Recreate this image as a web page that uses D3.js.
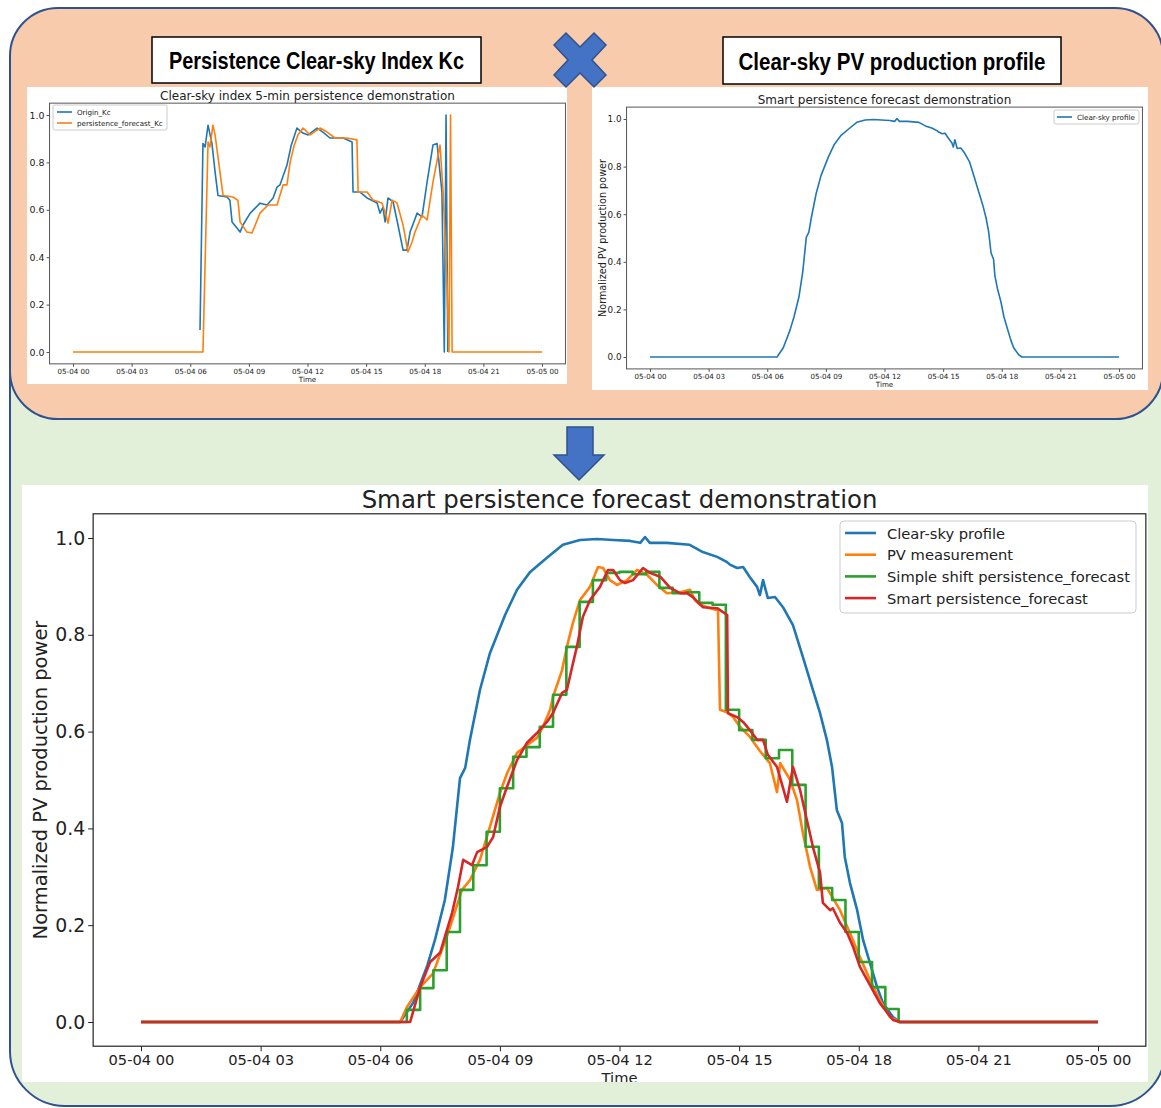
<!DOCTYPE html>
<html><head><meta charset="utf-8">
<script src="https://cdn.jsdelivr.net/npm/d3@7"></script>
<style>body{margin:0;background:#fff;} svg{display:block;}</style>
</head><body>
<svg id="c" width="1161" height="1108"></svg>
<script>
// ---------------- DATA ----------------
const tickHours = [0, 3, 6, 9, 12, 15, 18, 21, 24];
const tickLabels = ["05-04 00","05-04 03","05-04 06","05-04 09","05-04 12","05-04 15","05-04 18","05-04 21","05-05 00"];
const yTicks = [0, 0.2, 0.4, 0.6, 0.8, 1.0];

// [hour, value]
const clearSky = [[0,0],[6.50,0],[6.82,0.039],[7.17,0.114],[7.37,0.169],[7.62,0.252],[7.82,0.36],[8.00,0.504],[8.13,0.525],[8.25,0.583],[8.50,0.686],[8.75,0.762],[9.13,0.841],[9.43,0.893],[9.76,0.93],[10.18,0.959],[10.58,0.986],[11.01,0.996],[11.44,0.998],[11.84,0.996],[12.27,0.994],[12.52,0.99],[12.64,1.002],[12.76,0.99],[13.19,0.99],[13.76,0.986],[14.09,0.971],[14.45,0.961],[14.70,0.95],[14.77,0.945],[14.95,0.938],[15.10,0.94],[15.27,0.919],[15.45,0.899],[15.52,0.882],[15.60,0.913],[15.72,0.876],[15.90,0.878],[16.10,0.857],[16.35,0.82],[16.60,0.754],[16.85,0.686],[17.03,0.638],[17.20,0.583],[17.33,0.527],[17.45,0.438],[17.58,0.411],[17.65,0.341],[17.78,0.287],[17.96,0.231],[18.11,0.169],[18.28,0.122],[18.46,0.072],[18.61,0.039],[18.86,0.01],[19.03,0],[24,0]];

const pvMeasurement = [[0,0],[6.50,0],[6.67,0.031],[7.00,0.072],[7.32,0.10],[7.67,0.176],[8.05,0.273],[8.25,0.293],[8.50,0.335],[8.75,0.403],[9.00,0.473],[9.18,0.514],[9.43,0.556],[9.68,0.572],[9.93,0.587],[10.08,0.61],[10.26,0.645],[10.33,0.671],[10.56,0.727],[10.68,0.775],[10.83,0.824],[11.01,0.872],[11.26,0.899],[11.46,0.94],[11.59,0.938],[11.76,0.913],[11.94,0.903],[12.19,0.913],[12.44,0.934],[12.69,0.924],[12.94,0.903],[13.19,0.886],[13.52,0.888],[13.77,0.893],[13.89,0.872],[14.02,0.862],[14.27,0.855],[14.47,0.851],[14.52,0.645],[14.70,0.64],[14.85,0.63],[15.02,0.61],[15.27,0.589],[15.52,0.56],[15.77,0.535],[15.95,0.475],[16.03,0.535],[16.28,0.5],[16.45,0.459],[16.60,0.39],[16.78,0.32],[16.95,0.273],[17.20,0.277],[17.53,0.231],[17.78,0.184],[18.03,0.134],[18.28,0.087],[18.53,0.045],[18.78,0.01],[19.03,0],[24,0]];

// step series: value holds from its hour until the next entry
const simpleShift = [[0,0],[6.667,0.025],[7.0,0.07],[7.333,0.107],[7.667,0.186],[8.0,0.273],[8.333,0.324],[8.667,0.393],[9.0,0.483],[9.333,0.548],[9.667,0.568],[10.0,0.61],[10.333,0.676],[10.667,0.775],[11.0,0.868],[11.333,0.913],[11.667,0.928],[12.0,0.93],[12.333,0.925],[12.667,0.93],[13.0,0.897],[13.333,0.886],[13.667,0.888],[14.0,0.866],[14.333,0.862],[14.667,0.645],[15.0,0.603],[15.333,0.583],[15.667,0.545],[16.0,0.562],[16.333,0.49],[16.667,0.362],[17.0,0.277],[17.333,0.252],[17.667,0.186],[18.0,0.124],[18.333,0.072],[18.667,0.027],[19.0,0],[24,0]];

const smartPersistence = [[0,0],[6.75,0],[7.00,0.072],[7.25,0.124],[7.50,0.143],[7.80,0.225],[7.95,0.279],[8.08,0.335],[8.30,0.324],[8.43,0.351],[8.68,0.362],[8.83,0.382],[9.00,0.444],[9.18,0.486],[9.43,0.541],[9.68,0.577],[9.93,0.597],[10.18,0.62],[10.33,0.638],[10.56,0.68],[10.68,0.686],[10.81,0.733],[10.93,0.775],[11.08,0.837],[11.26,0.872],[11.51,0.899],[11.71,0.934],[11.84,0.934],[12.01,0.913],[12.14,0.907],[12.34,0.913],[12.59,0.938],[12.76,0.928],[13.02,0.92],[13.27,0.897],[13.52,0.886],[13.69,0.886],[13.84,0.878],[14.09,0.857],[14.45,0.855],[14.70,0.841],[14.72,0.638],[14.95,0.63],[15.10,0.62],[15.27,0.603],[15.45,0.583],[15.60,0.583],[15.72,0.552],[15.95,0.527],[16.20,0.455],[16.35,0.527],[16.53,0.479],[16.70,0.417],[16.85,0.362],[17.03,0.308],[17.10,0.246],[17.28,0.231],[17.35,0.235],[17.53,0.205],[17.71,0.184],[17.86,0.155],[18.03,0.114],[18.21,0.087],[18.53,0.039],[18.86,0.004],[19.03,0],[24,0]];

const kcOrigin = [[6.50,0.093],[6.65,0.88],[6.76,0.865],[6.91,0.957],[7.11,0.88],[7.27,0.76],[7.42,0.66],[7.88,0.654],[8.03,0.64],[8.14,0.549],[8.39,0.523],[8.55,0.506],[8.70,0.536],[9.06,0.585],[9.57,0.628],[9.93,0.62],[10.24,0.65],[10.44,0.696],[10.59,0.705],[10.95,0.789],[11.16,0.87],[11.46,0.945],[11.77,0.924],[12.03,0.916],[12.49,0.945],[12.79,0.928],[13.15,0.903],[13.82,0.903],[14.28,0.886],[14.33,0.675],[14.69,0.675],[15.05,0.65],[15.56,0.629],[15.71,0.586],[15.86,0.61],[15.97,0.549],[16.12,0.65],[16.38,0.633],[16.63,0.536],[16.89,0.43],[17.09,0.43],[17.25,0.506],[17.61,0.586],[17.86,0.57],[18.12,0.717],[18.42,0.873],[18.63,0.88],[18.88,0.675],[19.00,0],[19.09,1.0],[19.18,0]];

const kcPersistence = [[0,0],[6.65,0],[6.91,0.886],[7.01,0.865],[7.16,0.957],[7.27,0.916],[7.52,0.76],[7.68,0.66],[8.19,0.654],[8.44,0.64],[8.55,0.549],[8.90,0.506],[9.16,0.502],[9.57,0.586],[9.98,0.62],[10.44,0.62],[10.75,0.705],[10.95,0.705],[11.11,0.80],[11.31,0.87],[11.51,0.916],[11.77,0.945],[12.13,0.916],[12.64,0.945],[13.00,0.928],[13.41,0.903],[14.02,0.903],[14.53,0.895],[14.59,0.675],[15.05,0.675],[15.35,0.641],[15.81,0.629],[15.97,0.59],[16.12,0.544],[16.33,0.641],[16.58,0.629],[16.89,0.536],[17.14,0.422],[17.35,0.464],[17.50,0.506],[17.86,0.578],[18.12,0.557],[18.42,0.717],[18.78,0.873],[18.94,0.675],[19.14,0.283],[19.24,0],[19.32,1.0],[19.40,0],[24,0]];

const mainSeriesNames = ["Clear-sky profile","PV measurement","Simple shift persistence_forecast","Smart persistence_forecast"];
const kcSeriesNames = ["Origin_Kc","persistence_forecast_Kc"];
const colors = ["#1f77b4","#ff7f0e","#2ca02c","#d62728"];

// ---------------- DRAWING ----------------
const svg = d3.select("#c");
const FONT = "DejaVu Sans, Verdana, sans-serif";
const HFONT = "'Liberation Sans Narrow', 'Liberation Sans', Arial, sans-serif";

function fitSize(str, family, weight, width) {
  const t = svg.append("text").attr("font-family", family).attr("font-weight", weight)
    .attr("font-size", 100).text(str);
  const w = t.node().getComputedTextLength(); t.remove();
  return 100 * width / w;
}

// Background panels
const BLUE_EDGE = "#2f528f";
svg.append("rect").attr("x", 10).attr("y", 150).attr("width", 1155).attr("height", 956)
  .attr("rx", 55).attr("fill", "#e2efd9").attr("stroke", BLUE_EDGE).attr("stroke-width", 2);
svg.append("rect").attr("x", 10).attr("y", 8).attr("width", 1153).attr("height", 411)
  .attr("rx", 48).attr("fill", "#f8cbad").attr("stroke", BLUE_EDGE).attr("stroke-width", 2);

function drawChart(o) {
  const g = svg.append("g");
  if (o.clip) {
    const id = "clip" + Math.random().toString(36).slice(2);
    svg.append("clipPath").attr("id", id).append("rect")
      .attr("x", o.bg[0]).attr("y", o.bg[1]).attr("width", o.bg[2]).attr("height", o.bg[3]);
    g.attr("clip-path", `url(#${id})`);
  }
  g.append("rect").attr("x", o.bg[0]).attr("y", o.bg[1]).attr("width", o.bg[2]).attr("height", o.bg[3])
    .attr("fill", "#fff");
  const x = d3.scaleLinear().domain([0, 24]).range(o.xr);
  const y = d3.scaleLinear().domain([0, 1]).range(o.yr);
  const L = x(-1.2), R = x(25.2), T = y(1.05), B = y(-0.05);

  // series
  o.series.forEach(s => {
    const line = d3.line().x(d => x(d[0])).y(d => y(d[1]));
    if (s.step) line.curve(d3.curveStepAfter);
    g.append("path").datum(s.data).attr("d", line).attr("fill", "none")
      .attr("stroke", s.color).attr("stroke-width", o.lw).attr("stroke-linejoin", "round");
  });

  // spines
  g.append("rect").attr("x", L).attr("y", T).attr("width", R - L).attr("height", B - T)
    .attr("fill", "none").attr("stroke", o.spine).attr("stroke-width", o.spineW);

  // axes
  const xs = fitSize("05-04 00", FONT, "normal", o.xtw);
  const ys = fitSize("0.0", FONT, "normal", o.ytw);
  const xa = g.append("g").attr("transform", `translate(0,${B})`)
    .call(d3.axisBottom(x).tickValues(tickHours).tickFormat((d, i) => tickLabels[i])
      .tickSize(o.ts).tickSizeOuter(0).tickPadding(o.tp));
  const ya = g.append("g").attr("transform", `translate(${L},0)`)
    .call(d3.axisLeft(y).tickValues(yTicks).tickFormat(d3.format(".1f"))
      .tickSize(o.ts).tickSizeOuter(0).tickPadding(o.tp));
  [xa, ya].forEach(a => { a.select(".domain").remove(); a.selectAll("line").attr("stroke", o.spine); });
  xa.selectAll("text").attr("font-family", FONT).attr("font-size", xs).attr("fill", "#222");
  ya.selectAll("text").attr("font-family", FONT).attr("font-size", ys).attr("fill", "#222");

  // x label
  g.append("text").attr("x", (L + R) / 2).attr("y", o.xlabY).attr("text-anchor", "middle")
    .attr("font-family", FONT).attr("font-size", xs).attr("fill", "#222").text("Time");

  // title
  const tsz = fitSize(o.title, FONT, "normal", o.titleW);
  g.append("text").attr("x", (L + R) / 2).attr("y", o.titleY).attr("text-anchor", "middle")
    .attr("font-family", FONT).attr("font-size", tsz).attr("fill", "#222").text(o.title);

  // y label
  if (o.ylab) {
    const ysz = fitSize(o.ylab, FONT, "normal", o.ylabW);
    g.append("text").attr("transform", `translate(${o.ylabX},${o.ylabCY}) rotate(-90)`)
      .attr("text-anchor", "middle").attr("dominant-baseline", "central")
      .attr("font-family", FONT).attr("font-size", ysz).attr("fill", "#222").text(o.ylab);
  }

  // legend
  const lg = o.legend;
  g.append("rect").attr("x", lg.box[0]).attr("y", lg.box[1]).attr("width", lg.box[2]).attr("height", lg.box[3])
    .attr("rx", lg.rx).attr("fill", "#fff").attr("fill-opacity", 0.8).attr("stroke", "#cccccc").attr("stroke-width", 1);
  const lsz = fitSize(lg.longest, FONT, "normal", lg.longestW);
  lg.names.forEach((n, i) => {
    const yy = lg.y0 + i * lg.dy;
    g.append("line").attr("x1", lg.lx[0]).attr("x2", lg.lx[1]).attr("y1", yy).attr("y2", yy)
      .attr("stroke", colors[i]).attr("stroke-width", o.lw);
    g.append("text").attr("x", lg.tx).attr("y", yy).attr("dominant-baseline", "central")
      .attr("font-family", FONT).attr("font-size", lsz).attr("fill", "#222").text(n);
  });
}

// Top-left: Kc persistence
drawChart({
  bg: [27, 87, 540, 297], xr: [73, 542], yr: [352, 115], lw: 1.6, spine: "#555", spineW: 1,
  ts: 3, tp: 2, xtw: 32, ytw: 15, xlabY: 382,
  title: "Clear-sky index 5-min persistence demonstration", titleW: 295, titleY: 100,
  series: [{ data: kcOrigin, color: colors[0] }, { data: kcPersistence, color: colors[1] }],
  legend: { box: [53, 105, 114, 25], rx: 2, names: kcSeriesNames, longest: "persistence_forecast_Kc", longestW: 86,
            y0: 112, dy: 11, lx: [57, 72], tx: 77 }
});

// Top-right: clear-sky profile
drawChart({
  bg: [592, 87, 556, 303], xr: [650, 1119], yr: [357, 119], lw: 1.6, spine: "#555", spineW: 1,
  ts: 3, tp: 2, xtw: 32, ytw: 14, xlabY: 387,
  title: "Smart persistence forecast demonstration", titleW: 254, titleY: 104,
  ylab: "Normalized PV production power", ylabW: 158, ylabX: 602, ylabCY: 238,
  series: [{ data: clearSky, color: colors[0] }],
  legend: { box: [1054, 110, 85, 14], rx: 2, names: ["Clear-sky profile"], longest: "Clear-sky profile", longestW: 58,
            y0: 117, dy: 11, lx: [1057, 1072], tx: 1077 }
});

// Bottom: main chart
drawChart({
  clip: true,
  bg: [22, 485, 1126, 597], xr: [141, 1098], yr: [1022, 538], lw: 2.6, spine: "#222", spineW: 1.2,
  ts: 5, tp: 3, xtw: 66, ytw: 30, xlabY: 1083,
  title: "Smart persistence forecast demonstration", titleW: 516, titleY: 508,
  ylab: "Normalized PV production power", ylabW: 319, ylabX: 40, ylabCY: 780,
  series: [
    { data: clearSky, color: colors[0] },
    { data: pvMeasurement, color: colors[1] },
    { data: simpleShift, color: colors[2], step: true },
    { data: smartPersistence, color: colors[3] }
  ],
  legend: { box: [840, 521, 296, 92], rx: 4, names: mainSeriesNames, longest: "Simple shift persistence_forecast", longestW: 243,
            y0: 533, dy: 21.7, lx: [845, 876], tx: 887 }
});

// Header boxes
function header(x, y, w, h, str, tw) {
  svg.append("rect").attr("x", x).attr("y", y).attr("width", w).attr("height", h)
    .attr("fill", "#fff").attr("stroke", "#000").attr("stroke-width", 1.5);
  svg.append("text").attr("x", x + w / 2).attr("y", y + h / 2 + 1).attr("text-anchor", "middle")
    .attr("dominant-baseline", "central").attr("font-family", HFONT).attr("font-weight", "bold")
    .attr("font-size", 23).attr("textLength", tw).attr("lengthAdjust", "spacingAndGlyphs")
    .attr("fill", "#000").text(str);
}
header(152, 37, 329, 46, "Persistence Clear-sky Index Kc", 295);
header(723, 37, 338, 47, "Clear-sky PV production profile", 307);

// Blue multiply sign
const cx = 580, cy = 60;
const xPts = [[-26,-15],[-14,-27],[0,-13],[14,-27],[26,-15],[12,0],[26,15],[14,27],[0,13],[-14,27],[-26,15],[-12,0]];
svg.append("polygon").attr("points", xPts.map(p => [cx + p[0], cy + p[1]].join(",")).join(" "))
  .attr("fill", "#4472c4").attr("stroke", BLUE_EDGE).attr("stroke-width", 1.5);

// Down arrow
const arrowPts = [[567,427],[593,427],[593,455],[604,455],[579,480],[554,455],[567,455]];
svg.append("polygon").attr("points", arrowPts.map(p => p.join(",")).join(" "))
  .attr("fill", "#4472c4").attr("stroke", BLUE_EDGE).attr("stroke-width", 1.5);
</script>
</body></html>
